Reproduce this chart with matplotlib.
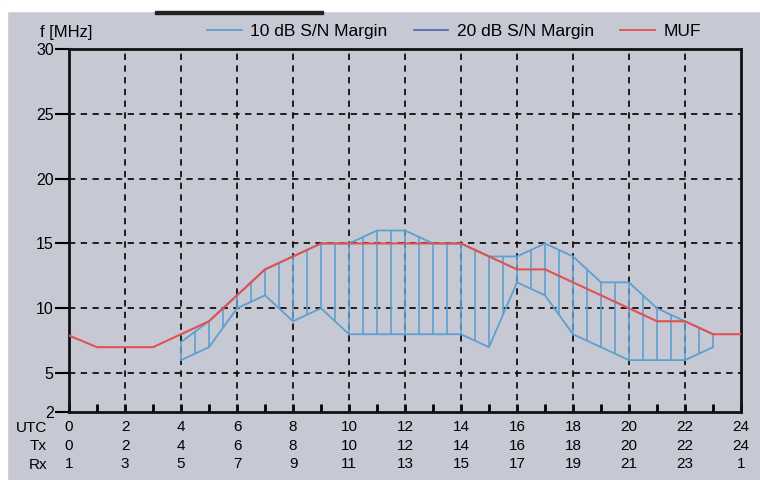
import numpy as np
import matplotlib
matplotlib.use('Agg')
import matplotlib.pyplot as plt
from matplotlib.lines import Line2D
from matplotlib.patches import Rectangle

plt.rcParams['font.family'] = ['Liberation Sans', 'DejaVu Sans']

# MUF curve (hourly, UTC)
muf_hours = list(range(0, 25))
muf = [7.9, 7, 7, 7, 8, 9, 11, 13, 14, 15, 15, 15, 15, 15, 15,
       14, 13, 13, 12, 11, 10, 9, 9, 8, 8]

# S/N margin band, upper and lower edges (hourly, UTC 4..23)
band_hours = list(range(4, 24))
band_upper = [7.4, 9, 11, 13, 14, 15, 15, 16, 16, 15, 15,
              14, 14, 15, 14, 12, 12, 10, 9, 8]
band_lower = [6, 7, 10, 11, 9, 10, 8, 8, 8, 8, 8,
              7, 12, 11, 8, 7, 6, 6, 6, 7]

utc_ticks = list(range(0, 25, 2))
tx_labels = [str(h) for h in utc_ticks]
rx_labels = ['1', '3', '5', '7', '9', '11', '13', '15', '17', '19', '21', '23', '1']
y_ticks = [2, 5, 10, 15, 20, 25, 30]

legend_labels = ['10 dB S/N Margin', '20 dB S/N Margin', 'MUF']

BG = '#c6c9d4'
C10 = '#5f9fcf'
C20 = '#5866b8'
CMUF = '#e05252'

fig = plt.figure(figsize=(7.6, 4.8), dpi=100, facecolor=BG)
# scan border
fig.patches.append(Rectangle((0, 1 - 11 / 480), 1, 11 / 480, transform=fig.transFigure,
                             color='white', zorder=0))
fig.patches.append(Rectangle((0, 0), 7 / 760, 1, transform=fig.transFigure,
                             color='white', zorder=0))
fig.patches.append(Rectangle((155 / 760, 1 - 14 / 480), 168 / 760, 3 / 480,
                             transform=fig.transFigure, color='#222222', zorder=1))

ax = fig.add_axes([69 / 760, 68 / 480, 672 / 760, 363 / 480])
ax.set_facecolor(BG)

# band: edges + vertical hatch every half hour
hx = np.arange(band_hours[0], band_hours[-1] + 0.01, 0.5)
hu = np.interp(hx, band_hours, band_upper)
hl = np.interp(hx, band_hours, band_lower)
ax.vlines(hx, hl, hu, color=C10, lw=1.2, zorder=3)
ax.plot(band_hours, band_upper, color=C10, lw=1.3, zorder=3)
ax.plot(band_hours, band_lower, color=C10, lw=1.3, zorder=3)
ax.plot(muf_hours, muf, color=CMUF, lw=1.5, zorder=4)

ax.set_xlim(0, 24)
ax.set_ylim(2, 30)

for x in utc_ticks[1:-1]:
    ax.axvline(x, color='#111111', lw=1.3, ls=(0, (3.5, 3)), zorder=2)
for y in y_ticks[1:-1]:
    ax.axhline(y, color='#111111', lw=1.3, ls=(0, (3.5, 3)), zorder=2)

for s in ax.spines.values():
    s.set_linewidth(2)
    s.set_color('#111111')

ax.set_yticks(y_ticks)
ax.set_yticklabels([str(v) for v in y_ticks])
ax.tick_params(axis='y', direction='out', length=10, width=1.5, pad=1)
for t in ax.get_yticklabels():
    t.set_family(['Liberation Sans Narrow', 'Liberation Sans'])
    t.set_fontsize(11.5)

ax.set_xticks(utc_ticks)
ax.set_xticks(range(1, 24, 2), minor=True)
ax.set_xticklabels([f'{u}\n{t}\n{r}' for u, t, r in zip(utc_ticks, tx_labels, rx_labels)])
for t in ax.get_xticklabels():
    t.set_linespacing(1.4)
ax.tick_params(axis='x', which='both', direction='in', length=6, width=2, pad=6, labelsize=11)

fig.text(47 / 760, 1 - 421 / 480, 'UTC\nTx\nRx', ha='right', va='top', fontsize=11,
         linespacing=1.4, multialignment='right')
fig.text(40 / 760, 1 - 32 / 480, 'f [MHz]', ha='left', va='center', fontsize=12)

handles = [Line2D([], [], color=C10, lw=1.3),
           Line2D([], [], color=C20, lw=1.3),
           Line2D([], [], color=CMUF, lw=1.3)]
fig.legend(handles, legend_labels, ncol=3, frameon=False, loc='center left',
           bbox_to_anchor=(207 / 760, 1 - 31 / 480), borderpad=0, borderaxespad=0,
           handlelength=2.0, handletextpad=0.5, columnspacing=1.5, fontsize=12.5)

fig.savefig('out.png', dpi=100, facecolor=BG)
